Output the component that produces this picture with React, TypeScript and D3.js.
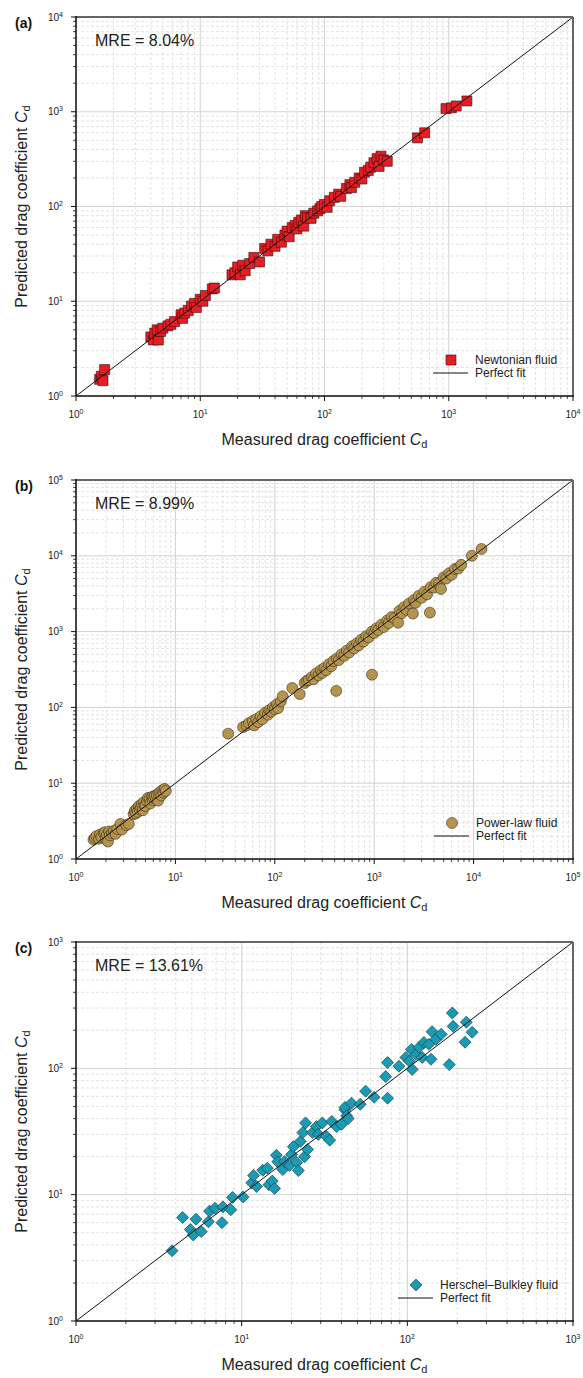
import React from "react";
import * as d3 from "d3";

const newtonian: [number, number][] = [
  [1.55, 1.5], [1.6, 1.62], [1.65, 1.45], [1.7, 1.9],
  [4.0, 4.2], [4.2, 3.9], [4.3, 4.6], [4.5, 5.0], [4.6, 3.9], [4.8, 4.8], [5.0, 5.2],
  [5.5, 5.5], [5.8, 5.7], [6.2, 6.1], [7.0, 7.2], [7.2, 6.6], [7.5, 7.5], [8.0, 8.0],
  [8.5, 8.9], [9.0, 9.5], [9.3, 8.6], [10.0, 10.5], [10.5, 10.0], [11.0, 11.5], [12.5, 13.5], [13.0, 13.8],
  [18, 19], [19, 20], [20, 23], [21, 19], [22, 24], [23, 21], [25, 25], [27, 29], [30, 26],
  [33, 36], [35, 34], [37, 40], [40, 38], [42, 45], [45, 42], [48, 50], [50, 55], [52, 48],
  [55, 60], [58, 63], [60, 58], [62, 68], [65, 72], [68, 62], [70, 80], [73, 76], [78, 75],
  [82, 85], [88, 90], [92, 95], [95, 100], [100, 105], [105, 98], [110, 115], [120, 125],
  [130, 135], [135, 128], [150, 155], [160, 170], [165, 158], [175, 180], [190, 200], [200, 195],
  [210, 230], [225, 240], [235, 260], [250, 290], [265, 320], [275, 265], [285, 340], [300, 310], [320, 300],
  [560, 530], [640, 600],
  [950, 1080], [1050, 1100], [1150, 1150], [1400, 1300],
];

const powerLaw: [number, number][] = [
  [1.5, 1.8], [1.55, 1.9], [1.6, 2.0], [1.7, 1.85], [1.75, 2.1], [1.8, 1.95], [1.9, 2.2], [1.95, 2.25],
  [2.0, 1.85], [2.05, 2.1], [2.1, 1.7], [2.15, 2.3], [2.2, 2.05], [2.3, 2.2], [2.4, 2.35], [2.5, 2.15],
  [2.6, 2.5], [2.8, 2.9], [2.9, 2.45], [3.2, 2.8], [3.4, 2.9],
  [3.8, 3.9], [3.9, 4.3], [4.0, 4.0], [4.1, 4.6], [4.2, 4.2], [4.3, 5.0], [4.4, 4.5], [4.5, 4.8],
  [4.6, 5.3], [4.7, 4.4], [4.8, 5.6], [4.9, 5.1], [5.0, 5.0], [5.2, 5.8], [5.3, 6.4], [5.5, 6.2],
  [5.6, 5.4], [5.8, 6.6], [5.9, 6.0], [6.0, 6.5], [6.2, 6.8], [6.4, 6.2], [6.5, 7.0], [6.7, 5.9],
  [6.8, 7.3], [7.0, 7.6], [7.2, 6.9], [7.4, 8.1], [7.6, 7.5], [7.8, 8.4], [8.0, 7.9],
  [34, 45],
  [48, 55], [52, 58], [55, 62], [60, 66], [62, 58], [65, 70], [68, 64], [72, 76], [75, 70], [80, 85],
  [85, 80], [88, 92], [92, 88], [96, 100], [100, 95], [105, 110], [108, 98], [115, 120], [120, 140],
  [150, 180], [178, 150],
  [200, 210], [210, 225], [220, 230], [235, 250], [245, 235], [260, 280], [275, 265], [290, 310],
  [300, 285], [315, 330], [330, 310], [350, 370], [370, 350], [390, 410], [415, 165], [420, 440],
  [440, 420], [470, 500], [500, 480], [530, 560], [560, 530], [600, 640], [630, 600], [670, 700],
  [700, 660], [740, 780], [780, 740], [830, 870], [880, 840], [950, 270], [950, 1000], [1000, 960],
  [1050, 1100], [1100, 1050], [1180, 1230], [1250, 1150], [1350, 1400], [1400, 1300], [1500, 1560],
  [1600, 1500], [1740, 1310], [1800, 1880], [1900, 1750], [2000, 2100], [2100, 1950], [2250, 2350],
  [2450, 1730], [2500, 2600], [2600, 2400], [2800, 2950], [3000, 2800], [3200, 3350], [3400, 3100],
  [3630, 1780], [3700, 3850], [4000, 3800], [4200, 4400], [4500, 4300], [4700, 3650], [5000, 5200],
  [5300, 5000], [5700, 5900], [6000, 5600], [6500, 6700], [7000, 6800], [7500, 7600],
  [9600, 10000], [12000, 12300],
];

const herschelBulkley: [number, number][] = [
  [3.8, 3.6], [4.4, 6.6], [4.9, 5.3], [5.1, 4.8], [5.3, 6.4], [5.7, 5.1], [6.3, 6.1], [6.4, 7.4],
  [6.9, 7.8], [7.6, 6.0], [7.7, 8.0], [8.6, 7.6], [8.8, 9.5], [10.2, 9.6], [11.5, 12.4], [11.8, 14.2],
  [12.3, 11.6], [13.4, 15.6], [14.3, 16.2], [14.6, 12.0], [15.3, 12.8], [15.8, 11.2], [16.2, 20.5],
  [16.5, 18.2], [17.7, 15.8], [18.2, 18.3], [19.5, 17], [20, 20.8], [20.5, 24], [21.5, 18], [22, 15.5],
  [22.6, 26.4], [23.4, 31], [24, 20], [24.3, 37], [25, 22.8], [26.8, 31], [28.3, 34.6], [29, 30],
  [30.7, 37], [32.5, 28.9], [34, 27], [35, 38], [37.5, 34.6], [40, 36], [42, 47], [42, 49], [43, 42],
  [44, 40], [46, 53], [52, 52], [56, 66], [63, 59], [74, 86], [76, 58], [76, 111], [89, 104],
  [98, 122], [103, 114], [106, 141], [107, 98], [113, 129], [118, 147], [123, 122], [126, 160],
  [135, 155], [139, 118], [141, 195], [149, 170], [160, 186], [179, 107], [187, 274], [189, 215],
  [223, 161], [227, 232], [246, 193],
];

const panelLabels = ["(a)", "(b)", "(c)"];
const mreLabels = ["MRE = 8.04%", "MRE = 8.99%", "MRE = 13.61%"];
const seriesNames = ["Newtonian fluid", "Power-law fluid", "Herschel\u2013Bulkley fluid"];
const maxExponents = [4, 5, 3];

const W = 583;
const H = 1378;
const left = 76;
const right = 573;
const tops = [17, 480, 942];
const plotH = 379;
const legendTextX = [475, 476, 440];
const font = "'Liberation Sans', Arial, Helvetica, sans-serif";

const styles = [
  { shape: "square", fill: "#e31e25", stroke: "#3b0a0a" },
  { shape: "circle", fill: "#b5944f", stroke: "#3d3018" },
  { shape: "diamond", fill: "#1a9bb3", stroke: "#0c3942" },
];

function markerPath(shape: string) {
  if (shape === "circle") return d3.symbol().type(d3.symbolCircle).size(Math.PI * 30)()!;
  if (shape === "diamond") return d3.symbol().type(d3.symbolSquare).size(72)()!;
  return d3.symbol().type(d3.symbolSquare).size(100)()!;
}

function Pow10({ e, ...rest }: any) {
  return (
    <text {...rest} fontFamily={font} fontSize={10} fill="#222">
      10
      <tspan fontSize={7} dy={-4}>
        {e}
      </tspan>
    </text>
  );
}

function Panel({ i, data }: { i: number; data: [number, number][] }) {
  const top = tops[i];
  const bottom = top + plotH;
  const maxExp = maxExponents[i];
  const { shape, fill, stroke } = styles[i];

  const x = d3.scaleLog().domain([1, 10 ** maxExp]).range([left, right]);
  const y = d3.scaleLog().domain([1, 10 ** maxExp]).range([bottom, top]);

  const majors = d3.range(0, maxExp + 1);
  const minors = d3.range(0, maxExp).flatMap((e) => d3.range(2, 10).map((m) => m * 10 ** e));

  const sym = markerPath(shape);
  const rot = shape === "diamond" ? " rotate(45)" : "";
  const fit = d3
    .line<number>()
    .x((v) => x(v))
    .y((v) => y(v));

  const lx = legendTextX[i];
  const ly1 = bottom - 36;
  const ly2 = bottom - 23;
  const midY = (top + bottom) / 2;

  return (
    <g>
      {/* grid */}
      {minors.map((v) => (
        <g key={"m" + v}>
          <line x1={x(v)} x2={x(v)} y1={top} y2={bottom} stroke="#dcdcdc" strokeWidth={0.8} strokeDasharray="3,2" />
          <line x1={left} x2={right} y1={y(v)} y2={y(v)} stroke="#dcdcdc" strokeWidth={0.8} strokeDasharray="3,2" />
        </g>
      ))}
      {majors.map((e) => (
        <g key={"M" + e}>
          <line x1={x(10 ** e)} x2={x(10 ** e)} y1={top} y2={bottom} stroke="#d2d2d2" strokeWidth={1} />
          <line x1={left} x2={right} y1={y(10 ** e)} y2={y(10 ** e)} stroke="#d2d2d2" strokeWidth={1} />
        </g>
      ))}

      {/* points */}
      {data.map(([mx, py], k) => (
        <path
          key={k}
          d={sym}
          transform={`translate(${x(mx)},${y(py)})${rot}`}
          fill={fill}
          stroke={stroke}
          strokeWidth={0.6}
        />
      ))}

      {/* perfect fit */}
      <path d={fit([1, 10 ** maxExp])!} stroke="#111" strokeWidth={1} fill="none" />

      {/* frame */}
      <line x1={left} x2={right} y1={top} y2={top} stroke="#666" strokeWidth={2} />
      <line x1={right} x2={right} y1={top} y2={bottom} stroke="#666" strokeWidth={2} />
      <line x1={left} x2={left} y1={top - 1} y2={bottom} stroke="#111" strokeWidth={1.5} />
      <line x1={left} x2={right + 1} y1={bottom} y2={bottom} stroke="#111" strokeWidth={1.5} />

      {/* ticks */}
      {minors.map((v) => (
        <g key={"t" + v}>
          <line x1={x(v)} x2={x(v)} y1={bottom} y2={bottom + 3} stroke="#111" strokeWidth={0.8} />
          <line x1={left - 3} x2={left} y1={y(v)} y2={y(v)} stroke="#111" strokeWidth={0.8} />
        </g>
      ))}
      {majors.map((e) => (
        <g key={"T" + e}>
          <line x1={x(10 ** e)} x2={x(10 ** e)} y1={bottom} y2={bottom + 5} stroke="#111" strokeWidth={1} />
          <line x1={left - 5} x2={left} y1={y(10 ** e)} y2={y(10 ** e)} stroke="#111" strokeWidth={1} />
          <Pow10 e={e} x={x(10 ** e)} y={bottom + 21.5} textAnchor="middle" />
          <Pow10 e={e} x={63} y={y(10 ** e) + 3.6} textAnchor="end" />
        </g>
      ))}

      {/* labels */}
      <text x={15} y={top + 11} fontFamily={font} fontSize={14} fontWeight="bold" fill="#111">
        {panelLabels[i]}
      </text>
      <text x={95} y={top + 29} fontFamily={font} fontSize={16} fill="#222">
        {mreLabels[i]}
      </text>
      <text x={(left + right) / 2} y={bottom + 49} fontFamily={font} fontSize={16} fill="#222" textAnchor="middle">
        Measured drag coefficient <tspan fontStyle="italic">C</tspan>
        <tspan fontSize={11} dy={3}>d</tspan>
      </text>
      <text
        transform={`translate(27,${midY}) rotate(-90)`}
        fontFamily={font}
        fontSize={16}
        fill="#222"
        textAnchor="middle"
      >
        Predicted drag coefficient <tspan fontStyle="italic">C</tspan>
        <tspan fontSize={11} dy={3}>d</tspan>
      </text>

      {/* legend */}
      <path d={sym} transform={`translate(${lx - 24},${ly1})${rot}`} fill={fill} stroke={stroke} strokeWidth={0.6} />
      <text x={lx} y={ly1 + 4} fontFamily={font} fontSize={12} fill="#222">
        {seriesNames[i]}
      </text>
      <line x1={lx - 42} x2={lx - 7} y1={ly2} y2={ly2} stroke="#111" strokeWidth={1} />
      <text x={lx} y={ly2 + 4} fontFamily={font} fontSize={12} fill="#222">
        Perfect fit
      </text>
    </g>
  );
}

export default function App() {
  const sets = [newtonian, powerLaw, herschelBulkley];
  return (
    <svg width={W} height={H} style={{ position: "absolute", left: 0, top: 0, background: "#fff" }}>
      {sets.map((d, i) => (
        <Panel key={i} i={i} data={d} />
      ))}
    </svg>
  );
}
